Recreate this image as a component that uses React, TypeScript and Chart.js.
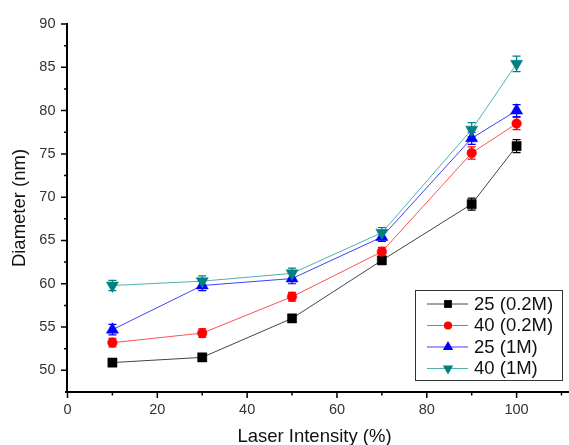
import React, { useEffect, useRef } from 'react';
import { Chart, registerables } from 'chart.js';

Chart.register(...registerables);

const intensity = [10, 30, 50, 70, 90, 100];
const seriesNames = ['25 (0.2M)', '40 (0.2M)', '25 (1M)', '40 (1M)'];
const d25_02M = [50.9, 51.5, 56.0, 62.7, 69.2, 75.9];
const d40_02M = [53.2, 54.3, 58.5, 63.7, 75.1, 78.5];
const d25_1M = [54.7, 59.8, 60.6, 65.4, 76.8, 80.0];
const d40_1M = [59.8, 60.3, 61.2, 65.9, 77.8, 85.4];
const e25_02M = [0.3, 0.3, 0.3, 0.3, 0.7, 0.75];
const e40_02M = [0.5, 0.5, 0.5, 0.5, 0.7, 0.7];
const e25_1M = [0.6, 0.6, 0.6, 0.5, 0.7, 0.7];
const e40_1M = [0.6, 0.6, 0.6, 0.6, 0.8, 0.9];
const xTicks = [0, 20, 40, 60, 80, 100];
const xMinorTicks = [10, 30, 50, 70, 90, 110];
const yTicks = [50, 55, 60, 65, 70, 75, 80, 85, 90];
const yMinorTicks = [47.5, 52.5, 57.5, 62.5, 67.5, 72.5, 77.5, 82.5, 87.5];

const seriesValues = [d25_02M, d40_02M, d25_1M, d40_1M];
const seriesErrors = [e25_02M, e40_02M, e25_1M, e40_1M];
const markerColors = ['#000000', '#ff0000', '#0000ff', '#008080'];
const lineColors = ['#444444', '#ff5050', '#4040ff', '#50b0b0'];
const markerStyles = ['rect', 'circle', 'triangle', 'triangle'];
const markerRotations = [0, 0, 0, 180];
const markerRadii = [6.5, 4.8, 7, 7];

const FONT = '"Liberation Sans", Arial, sans-serif';

function drawMarker(ctx: CanvasRenderingContext2D, i: number, x: number, y: number, scale: number) {
  const r = markerRadii[i] * scale;
  ctx.save();
  ctx.fillStyle = markerColors[i];
  ctx.beginPath();
  const st = markerStyles[i];
  if (st === 'rect') {
    const s = r * Math.SQRT1_2;
    ctx.rect(x - s, y - s, 2 * s, 2 * s);
  } else if (st === 'circle') {
    ctx.arc(x, y, r, 0, Math.PI * 2);
  } else {
    const dir = markerRotations[i] === 180 ? -1 : 1;
    ctx.moveTo(x, y - dir * r);
    ctx.lineTo(x + r * Math.sin(Math.PI / 3), y + dir * r * 0.5);
    ctx.lineTo(x - r * Math.sin(Math.PI / 3), y + dir * r * 0.5);
    ctx.closePath();
  }
  ctx.fill();
  ctx.restore();
}

const errorBarPlugin = {
  id: 'errorBars',
  beforeDatasetsDraw(chart: any) {
    const { ctx, scales } = chart;
    const xs = scales.x;
    const ys = scales.y;
    seriesValues.forEach((vals, i) => {
      const errs = seriesErrors[i];
      ctx.save();
      ctx.strokeStyle = markerColors[i];
      ctx.lineWidth = 1.2;
      vals.forEach((v, j) => {
        const px = xs.getPixelForValue(intensity[j]);
        const top = ys.getPixelForValue(v + errs[j]);
        const bot = ys.getPixelForValue(v - errs[j]);
        ctx.beginPath();
        ctx.moveTo(px, top);
        ctx.lineTo(px, bot);
        ctx.moveTo(px - 4, top);
        ctx.lineTo(px + 4, top);
        ctx.moveTo(px - 4, bot);
        ctx.lineTo(px + 4, bot);
        ctx.stroke();
      });
      ctx.restore();
    });
  },
};

const axesPlugin = {
  id: 'axesFrame',
  afterDraw(chart: any) {
    const { ctx, scales, chartArea } = chart;
    const xs = scales.x;
    const ys = scales.y;
    const ax = 67;
    const ay = 392;
    ctx.save();
    ctx.strokeStyle = '#000';
    ctx.lineWidth = 2;
    ctx.beginPath();
    ctx.moveTo(ax, chartArea.top - 1);
    ctx.lineTo(ax, ay + 1);
    ctx.moveTo(ax - 2, ay);
    ctx.lineTo(chart.width, ay);
    ctx.stroke();
    ctx.lineWidth = 1.5;
    ctx.beginPath();
    yTicks.forEach((v) => {
      const py = ys.getPixelForValue(v);
      ctx.moveTo(ax - 6, py);
      ctx.lineTo(ax, py);
    });
    yMinorTicks.forEach((v) => {
      const py = ys.getPixelForValue(v);
      if (py > ay - 1) return;
      ctx.moveTo(ax - 3, py);
      ctx.lineTo(ax, py);
    });
    xTicks.forEach((v) => {
      const px = xs.getPixelForValue(v);
      ctx.moveTo(px, ay);
      ctx.lineTo(px, ay + 6);
    });
    xMinorTicks.forEach((v) => {
      const px = Math.min(xs.getPixelForValue(v), chart.width - 1);
      ctx.moveTo(px, ay);
      ctx.lineTo(px, ay + 3.5);
    });
    ctx.stroke();

    // legend
    const lx = 415.5;
    const ly = 290.5;
    const lw = 147;
    const lh = 90;
    ctx.fillStyle = '#fff';
    ctx.fillRect(lx, ly, lw, lh);
    ctx.strokeStyle = '#333';
    ctx.lineWidth = 1;
    ctx.strokeRect(lx, ly, lw, lh);
    const rows = [304, 325.5, 347, 368.5];
    seriesNames.forEach((name, i) => {
      const ry = rows[i];
      ctx.strokeStyle = lineColors[i];
      ctx.lineWidth = 1;
      ctx.beginPath();
      ctx.moveTo(427, ry);
      ctx.lineTo(468, ry);
      ctx.stroke();
      drawMarker(ctx, i, 448, ry, i === 0 ? 0.85 : 0.85);
      ctx.fillStyle = '#111';
      ctx.font = `18.5px ${FONT}`;
      ctx.textAlign = 'left';
      ctx.textBaseline = 'middle';
      ctx.fillText(name, 474, ry + 0.5);
    });
    ctx.restore();
  },
};

export default function App() {
  const ref = useRef<HTMLCanvasElement | null>(null);
  useEffect(() => {
    document.body.style.margin = '0';
    if (!ref.current) return;
    Chart.defaults.font.family = FONT;
    const chart = new Chart(ref.current, {
      type: 'line',
      data: {
        datasets: seriesValues.map((vals, i) => ({
          label: seriesNames[i],
          data: vals.map((v, j) => ({ x: intensity[j], y: v })),
          borderColor: lineColors[i],
          borderWidth: 1,
          backgroundColor: markerColors[i],
          pointBackgroundColor: markerColors[i],
          pointBorderColor: markerColors[i],
          pointBorderWidth: 0.5,
          pointStyle: markerStyles[i] as any,
          rotation: markerRotations[i],
          pointRadius: markerRadii[i],
          pointHoverRadius: markerRadii[i],
          order: 4 - i,
          tension: 0,
          fill: false,
        })),
      },
      options: {
        responsive: false,
        animation: false,
        events: [],
        layout: { padding: { top: 24, right: 1, left: 0, bottom: 0 } },
        plugins: {
          legend: { display: false },
          tooltip: { enabled: false },
        },
        scales: {
          x: {
            type: 'linear',
            min: 0,
            max: 110,
            afterBuildTicks: (s: any) => {
              s.ticks = xTicks.map((v) => ({ value: v }));
            },
            afterFit: (s: any) => {
              s.height = 53;
            },
            grid: { display: false, drawTicks: true, tickLength: 6 },
            border: { display: false },
            ticks: {
              padding: 3,
              color: '#333',
              font: { size: 14.5, family: FONT },
              maxRotation: 0,
              autoSkip: false,
            },
            title: {
              display: true,
              text: 'Laser Intensity (%)',
              color: '#111',
              font: { size: 18.5, family: FONT, lineHeight: 0.9 },
              padding: { top: 0, bottom: 0 },
            },
          },
          y: {
            type: 'linear',
            min: 47.5,
            max: 90,
            afterBuildTicks: (s: any) => {
              s.ticks = yTicks.map((v) => ({ value: v }));
            },
            afterFit: (s: any) => {
              s.width = 67.5;
            },
            grid: { display: false, drawTicks: true, tickLength: 6 },
            border: { display: false },
            ticks: {
              padding: 6,
              color: '#333',
              font: { size: 14.5, family: FONT },
              autoSkip: false,
            },
            title: {
              display: true,
              text: 'Diameter (nm)',
              color: '#111',
              font: { size: 18.5, family: FONT, lineHeight: 1.2 },
              padding: { top: 9, bottom: 0 },
            },
          },
        },
      },
      plugins: [errorBarPlugin, axesPlugin],
    });
    return () => chart.destroy();
  }, []);
  return <canvas ref={ref} width={569} height={445} style={{ display: 'block' }} />;
}
